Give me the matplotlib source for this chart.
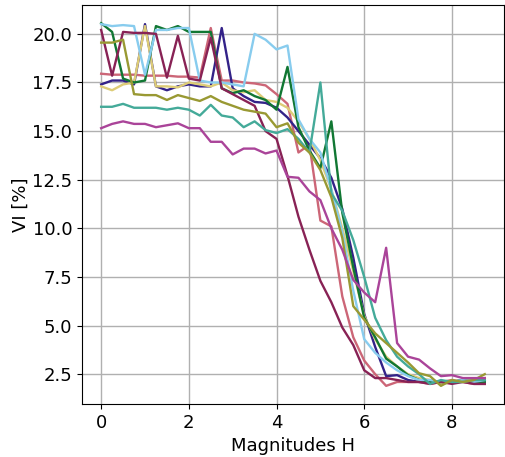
import numpy as np
import matplotlib
matplotlib.use("Agg")
import matplotlib.pyplot as plt

x = [i * 0.25 for i in range(36)]

rose = [17.95, 17.9, 17.9, 17.9, 17.85, 17.85, 17.85, 17.8, 17.8, 17.75, 20.3, 17.6,
        17.6, 17.5, 17.45, 17.35, 16.9, 16.4, 13.9, 14.3, 10.4, 10.1, 6.5, 4.4,
        3.2, 2.5, 1.9, 2.1, 2.1, 2.1, 2.0, 2.1, 2.2, 2.1, 2.0, 2.0]
indigo = [17.4, 17.6, 17.6, 17.4, 20.5, 17.3, 17.1, 17.3, 17.4, 17.3, 17.3, 20.3,
          17.2, 16.8, 16.5, 16.45, 16.2, 15.7, 15.0, 14.3, 13.6, 12.6, 11.0, 8.5,
          5.6, 3.9, 2.4, 2.45, 2.2, 2.1, 2.1, 2.1, 2.1, 2.2, 2.1, 2.1]
sand = [17.3, 17.1, 17.4, 17.5, 20.4, 17.3, 17.3, 17.25, 17.5, 17.4, 17.3, 17.5,
        17.1, 17.0, 17.1, 16.6, 16.5, 16.2, 15.5, 14.6, 13.5, 12.0, 10.0, 7.8,
        5.5, 4.3, 3.4, 2.9, 2.5, 2.3, 2.2, 2.0, 2.1, 2.2, 2.2, 2.3]
green = [20.55, 20.1, 17.7, 17.5, 17.6, 20.4, 20.2, 20.4, 20.1, 20.1, 20.1, 17.2,
         16.95, 17.1, 16.8, 16.6, 16.1, 18.3, 15.2, 14.0, 13.1, 15.5, 10.8, 8.0,
         5.4, 4.4, 3.3, 2.9, 2.45, 2.2, 2.1, 2.1, 2.1, 2.2, 2.1, 2.1]
cyan = [20.5, 20.4, 20.45, 20.4, 17.9, 20.2, 20.2, 20.3, 20.3, 17.6, 17.5, 17.5,
        17.4, 17.3, 20.0, 19.7, 19.2, 19.4, 15.6, 14.6, 13.9, 12.0, 9.8, 6.8,
        4.3, 3.6, 3.1, 2.7, 2.4, 2.2, 2.2, 2.1, 2.1, 2.2, 2.1, 2.2]
wine = [20.2, 17.85, 20.1, 20.05, 20.05, 20.0, 17.75, 19.9, 17.7, 17.6, 19.8, 17.2,
        16.9, 16.6, 16.3, 15.0, 14.6, 12.7, 10.6, 8.9, 7.3, 6.2, 4.9, 4.0,
        2.7, 2.3, 2.3, 2.2, 2.1, 2.1, 2.0, 2.1, 2.0, 2.1, 2.0, 2.0]
teal = [16.25, 16.25, 16.4, 16.2, 16.2, 16.2, 16.1, 16.2, 16.1, 15.8, 16.35, 15.8,
        15.7, 15.2, 15.5, 15.05, 14.9, 15.1, 14.6, 13.9, 17.5, 11.8, 10.9, 9.4,
        7.5, 5.4, 4.25, 3.4, 2.9, 2.5, 2.0, 2.2, 2.1, 2.1, 2.2, 2.2]
olive = [19.55, 19.55, 19.7, 16.9, 16.85, 16.85, 16.6, 16.85, 16.7, 16.55, 16.8, 16.5,
         16.3, 16.1, 16.0, 15.9, 15.2, 15.4, 14.4, 13.9, 13.0, 11.6, 9.5, 6.0,
         5.3, 4.6, 4.1, 3.6, 3.1, 2.55, 2.4, 1.9, 2.2, 2.1, 2.2, 2.5]
purple = [15.15, 15.37, 15.5, 15.37, 15.37, 15.2, 15.3, 15.4, 15.15, 15.15, 14.45, 14.45,
          13.8, 14.1, 14.1, 13.85, 14.0, 12.65, 12.6, 11.9, 11.45, 10.0, 8.9, 7.35,
          6.7, 6.2, 9.0, 4.1, 3.4, 3.25, 2.8, 2.4, 2.45, 2.3, 2.3, 2.3]

series = [rose, indigo, sand, green, cyan, wine, teal, olive, purple]
colors = ["#CC6677", "#332288", "#DDCC77", "#117733", "#88CCEE",
          "#882255", "#44AA99", "#999933", "#AA4499"]

plt.rcParams['font.family'] = ['DejaVu Sans']
fig = plt.figure(figsize=(5.06, 4.57), dpi=100)
ax = fig.add_axes([0.162, 0.116, 0.834, 0.873])
for s, c in zip(series, colors):
    ax.plot(x, s, color=c, lw=1.7)

ax.set_yticks([2.5, 5.0, 7.5, 10.0, 12.5, 15.0, 17.5, 20.0])
ax.set_xticks([0, 2, 4, 6, 8])
ax.tick_params(labelsize=13)
ax.set_xlabel("Magnitudes H", fontsize=13)
ax.set_ylabel("VI [%]", fontsize=13, labelpad=2)
ax.grid(True, color="#b0b0b0", lw=1.0)
ax.set_axisbelow(True)
fig.savefig("out.png", dpi=100)
